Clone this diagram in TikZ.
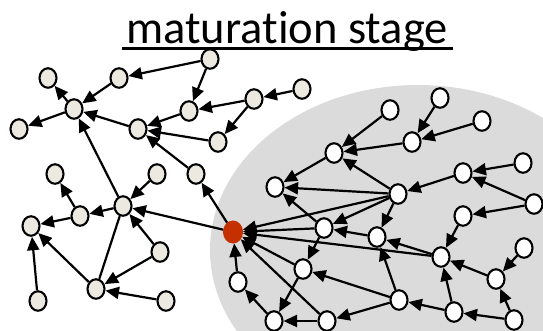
\documentclass[tikz,border=0pt]{standalone}
\usepackage{fontspec}
\setmainfont{Carlito}[RawFeature={-liga;-dlig;-calt}]
\usetikzlibrary{shapes.geometric,arrows.meta}
\definecolor{cloud}{RGB}{219,219,219}
\definecolor{cream}{RGB}{236,234,224}
\definecolor{seed}{RGB}{198,48,0}
\tikzset{
  vtx/.style={ellipse,draw=black,line width=2.1pt,inner sep=0pt,
              minimum width=17pt,minimum height=19.5pt},
  old/.style={vtx,fill=cream},
  new/.style={vtx,fill=white},
  hub/.style={ellipse,fill=seed,draw=seed,line width=1pt,inner sep=0pt,
              minimum width=19pt,minimum height=22pt},
  link/.style={line width=2.2pt,-{Triangle[length=13.5pt,width=12pt]}},
  tie/.style={line width=2.2pt}
}
\begin{document}
\begin{tikzpicture}[x=1pt,y=-1pt]
\clip (0,0) rectangle (543,330);
\useasboundingbox (0,0) rectangle (543,330);

% shaded region of the young part of the network
\fill[cloud] (418,250) ellipse [x radius=208, y radius=165];

% title (boxed letters keep "t" and "i" as separate glyphs)
\node[anchor=base,font=\fontsize{46.5}{50}\selectfont,inner sep=0pt] (title) at (287,43) {matura\mbox{t}\mbox{i}on stage};
\draw[line width=2.4pt] (122,48.5) -- (453,48.5);

% older part of the network
\node[old] (a1) at (48,78) {};
\node[old] (a2) at (74,109) {};
\node[old] (a3) at (19,129) {};
\node[old] (a4) at (119,78) {};
\node[old] (a5) at (210,59) {};
\node[old] (a6) at (189,111) {};
\node[old] (a7) at (254,99) {};
\node[old] (a13) at (302,89) {};
\node[old] (a8) at (138,129) {};
\node[old] (a9) at (218,142) {};
\node[old] (a10) at (196,174) {};
\node[old] (a11) at (55,174) {};
\node[old] (a12) at (157,174) {};
\node[old] (b1) at (123,206) {};
\node[old] (b2) at (80,216) {};
\node[old] (b3) at (31,226) {};
\node[old] (b4) at (160,252) {};
\node[old] (b5) at (96,289) {};
\node[old] (b6) at (38,301) {};
\node[old] (b7) at (166,301) {};

% the highlighted vertex
\node[hub] (r) at (233,232) {};

% younger part of the network
\node[new] (w1) at (390,110) {};
\node[new] (w2) at (440,98) {};
\node[new] (w3) at (482,121) {};
\node[new] (w4) at (412,142) {};
\node[new] (w5) at (334,153) {};
\node[new] (w6) at (275,187) {};
\node[new] (w7) at (398,194) {};
\node[new] (w8) at (463,173) {};
\node[new] (w9) at (523,163) {};
\node[new] (w10) at (534,204) {};
\node[new] (w11) at (463,216) {};
\node[new] (w12) at (324,228) {};
\node[new] (w13) at (377,237) {};
\node[new] (w14) at (441,257) {};
\node[new] (w15) at (524,248) {};
\node[new] (w16) at (303,269) {};
\node[new] (w17) at (238,282) {};
\node[new] (w18) at (399,300) {};
\node[new] (w19) at (454,312) {};
\node[new] (w20) at (496,279) {};
\node[new] (w22) at (274,321) {};
\node[new] (w23) at (327,321) {};
\node[new] (w24) at (514,320) {};

% links among the older vertices
\foreach \s/\t in {a5/a4,a5/a6,a4/a2,a2/a1,a2/a3,a8/a2,a6/a8,a7/a6,a7/a9,
                   a13/a7,a9/a8,a10/a8,b1/a2,a12/b1,b1/b2,b2/a11,b2/b3,
                   b5/b3,b6/b3,b4/b1,b4/b5,b7/b5}
  \draw[link] (\s) -- (\t);
\draw[tie] (b5) -- (b1);

% links of the highlighted vertex
\draw[link] (r) -- (b1);
\draw[link] (r) -- (a10);
\foreach \s in {w17,w23,w16,w14,w12,w7}
  \draw[link] (\s) -- (r);

% links among the younger vertices
\foreach \s/\t in {w22/w17,w23/w22,w16/w22,w12/w16,w18/w16,w18/w23,w18/w13,
                   w19/w18,w19/w14,w20/w14,w15/w20,w24/w19,w24/w20,w14/w13,
                   w13/w12,w7/w12,w7/w13,w7/w6,w7/w5,w12/w6,w5/w6,w1/w5,
                   w4/w5,w2/w4,w3/w4,w8/w7,w9/w8,w10/w8,w10/w11,w11/w14}
  \draw[link] (\s) -- (\t);
\end{tikzpicture}
\end{document}
